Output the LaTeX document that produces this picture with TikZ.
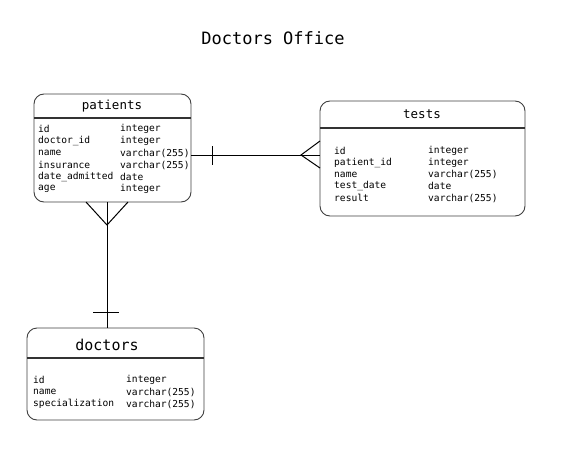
\documentclass[tikz,border=0pt]{standalone}
\usepackage{fontspec}
\setmonofont{DejaVu Sans Mono}
\begin{document}
\begin{tikzpicture}[x=1pt,y=-1pt,
  tbl/.style={draw=black!75,line width=0.9pt,rounded corners=10pt,fill=white},
  hdr/.style={draw=black!80,line width=1.8pt},
  ttl/.style={font=\ttfamily\fontsize{12.5}{14}\selectfont,anchor=center,inner sep=0pt},
  fld/.style={font=\ttfamily\fontsize{9.6}{11}\selectfont,anchor=west,inner sep=0pt},
  rel/.style={draw=black,line width=1pt}]
\useasboundingbox (0,0) rectangle (563,466);
\node[font=\ttfamily\fontsize{17}{20}\selectfont,inner sep=0pt] (title) at (273,38) {Doctors Office};

% patients
\draw[tbl] (34,94) rectangle (191,202);
\coordinate (pR) at (191,155);
\coordinate (pB) at (107,202);
\draw[hdr] (34,118) -- (191,118);
\node[ttl] (pt) at (112,106) {patients};
\foreach \n [count=\i from 0] in {id,doctor\_id,name,insurance,date\_admitted,age}
  \node[fld] (pn\i) at (38,{129+12*\i}) {\n};
\foreach \t [count=\i from 0] in {integer,integer,varchar(255),varchar(255),date,integer}
  \node[fld] (pv\i) at (120,{129+12*\i}) {\t};

% tests
\draw[tbl] (320,101) rectangle (525,216);
\coordinate (tL) at (320,155);
\draw[hdr] (320,128) -- (525,128);
\node[ttl] (tt) at (422,114) {tests};
\foreach \n [count=\i from 0] in {id,patient\_id,name,test\_date,result}
  \node[fld] (tn\i) at (334,{151+11.8*\i}) {\n};
\foreach \t [count=\i from 0] in {integer,integer,varchar(255),date,varchar(255)}
  \node[fld] (tv\i) at (428,{151+11.8*\i}) {\t};

% doctors
\draw[tbl] (27,328) rectangle (204,420);
\coordinate (dT) at (107,328);
\draw[hdr] (27,358) -- (204,358);
\node[ttl,font=\ttfamily\fontsize{15}{17}\selectfont] (dt) at (107,345) {doctors};
\foreach \n [count=\i from 0] in {id,name,specialization}
  \node[fld] (dn\i) at (33,{380+12*\i}) {\n};
\foreach \t [count=\i from 0] in {integer,varchar(255),varchar(255)}
  \node[fld] (dv\i) at (126,{380+12*\i}) {\t};

% patients -- tests
\draw[rel] (pR) -- (tL);
\draw[rel] (212,146) -- (212,165);
\coordinate (cf1) at (301,155);
\draw[rel] (320,141) -- (cf1) -- (320,168);

% patients -- doctors
\draw[rel] (pB) -- (dT);
\coordinate (cf2) at (107,225);
\draw[rel] (86,202) -- (cf2) -- (128,202);
\draw[rel] (93,312) -- (119,312);
\end{tikzpicture}
\end{document}
